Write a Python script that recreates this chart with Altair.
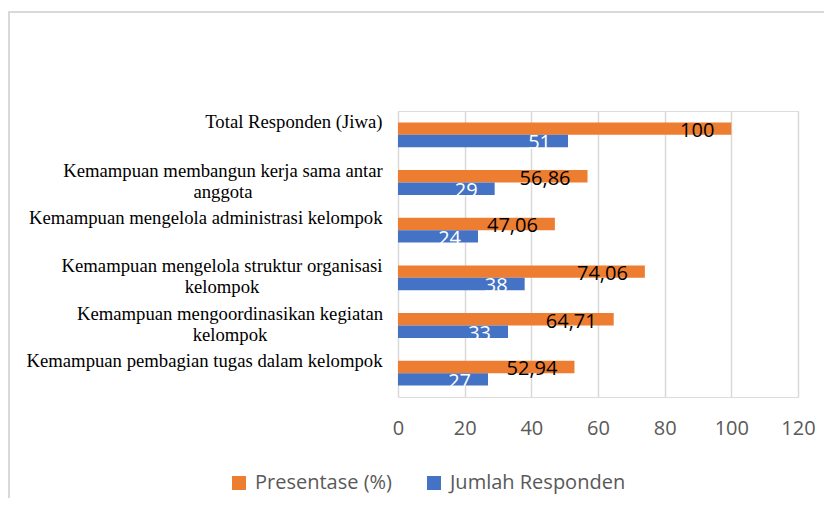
import altair as alt
import pandas as pd

categories = [
    "Total Responden (Jiwa)",
    "Kemampuan membangun kerja sama antar|anggota",
    "Kemampuan mengelola administrasi kelompok",
    "Kemampuan mengelola struktur organisasi|kelompok",
    "Kemampuan mengoordinasikan kegiatan|kelompok",
    "Kemampuan pembagian tugas dalam kelompok",
]
series_names = ["Presentase (%)", "Jumlah Responden"]
presentase = [100, 56.86, 47.06, 74.06, 64.71, 52.94]
jumlah = [51, 29, 24, 38, 33, 27]
x_ticks = [0, 20, 40, 60, 80, 100, 120]

def fmt(v):
    return f"{v:g}".replace(".", ",")

rows = []
for c, p, j in zip(categories, presentase, jumlah):
    rows.append({"category": c, "series": series_names[0], "value": p, "label": fmt(p)})
    rows.append({"category": c, "series": series_names[1], "value": j, "label": fmt(j)})
df = pd.DataFrame(rows)

SANS = "Open Sans"
SERIF = "Liberation Serif"
ORANGE = "#ED7D31"
BLUE = "#4472C4"

two_line = "indexof(datum.value, '|') >= 0"
pad_conditions = [
    {"test": f"datum.value === '{categories[1]}'", "value": 175.5},
    {"test": f"datum.value === '{categories[3]}'", "value": 176.5},
    {"test": f"datum.value === '{categories[4]}'", "value": 168.5},
]

y_enc = alt.Y(
    "category:N",
    sort=categories,
    title=None,
    scale=alt.Scale(paddingInner=0.48, paddingOuter=0.24),
    axis=alt.Axis(
        domain=False,
        ticks=False,
        grid=False,
        labelFont=SERIF,
        labelFontSize=18.7,
        labelColor="#000000",
        labelLimit=600,
        labelLineHeight=21,
        labelExpr="split(datum.label, '|')",
        labelAlign={"condition": {"test": two_line, "value": "center"}, "value": "right"},
        labelOffset={"condition": {"test": two_line, "value": -11.5}, "value": -12.5},
        labelPadding={"condition": pad_conditions, "value": 16},
    ),
)

x_enc = alt.X(
    "value:Q",
    title=None,
    scale=alt.Scale(domain=[0, 120], nice=False),
    axis=alt.Axis(
        values=x_ticks,
        grid=True,
        gridColor="#d9d9d9",
        gridWidth=1.5,
        domain=False,
        ticks=False,
        labelFlush=False,
        labelFont=SANS,
        labelFontSize=20,
        labelColor="#595959",
        labelPadding=21,
    ),
)

bars = alt.Chart(df).mark_bar().encode(
    y=y_enc,
    x=x_enc,
    yOffset=alt.YOffset("series:N", sort=series_names, scale=alt.Scale(paddingInner=0, paddingOuter=0)),
    color=alt.Color(
        "series:N",
        sort=series_names,
        scale=alt.Scale(domain=series_names, range=[ORANGE, BLUE]),
        legend=alt.Legend(
            title=None,
            orient="none",
            direction="horizontal",
            legendX=-169,
            legendY=362,
            symbolType="square",
            symbolSize=196,
            symbolStrokeWidth=0,
            labelFont=SANS,
            labelFontSize=20,
            labelColor="#595959",
            labelOffset=6,
            labelLimit=400,
            columnPadding=32,
            padding=0,
        ),
    ),
)

text_or = alt.Chart(df).transform_filter(
    alt.datum.series == series_names[0]
).mark_text(
    align="right", baseline="alphabetic", dx=-17, dy=2, font=SANS, fontSize=20, color="#000000"
).encode(
    y=alt.Y("category:N", sort=categories),
    x=alt.X("value:Q"),
    text="label:N",
)

text_bl = alt.Chart(df).transform_filter(
    alt.datum.series == series_names[1]
).mark_text(
    align="right", baseline="alphabetic", dx=-17, dy=14.5, font=SANS, fontSize=20, color="#FFFFFF"
).encode(
    y=alt.Y("category:N", sort=categories),
    x=alt.X("value:Q"),
    text="label:N",
)

frame = alt.Chart(alt.Data(values=[{"f": 1}])).mark_rect(
    fillOpacity=0, stroke="#d9d9d9", strokeWidth=2
).encode(
    x=alt.value(-389), x2=alt.value(700), y=alt.value(-99), y2=alt.value(600)
)

chart = alt.layer(frame, bars, text_or, text_bl).properties(
    width=400,
    height=286,
    autosize=alt.AutoSizeParams(type="none"),
    padding={"left": 390, "top": 103, "right": 26, "bottom": 101},
).configure_view(stroke=None).configure(background="#ffffff")

chart.save("out.html", embed_options={"renderer": "svg", "actions": False})
